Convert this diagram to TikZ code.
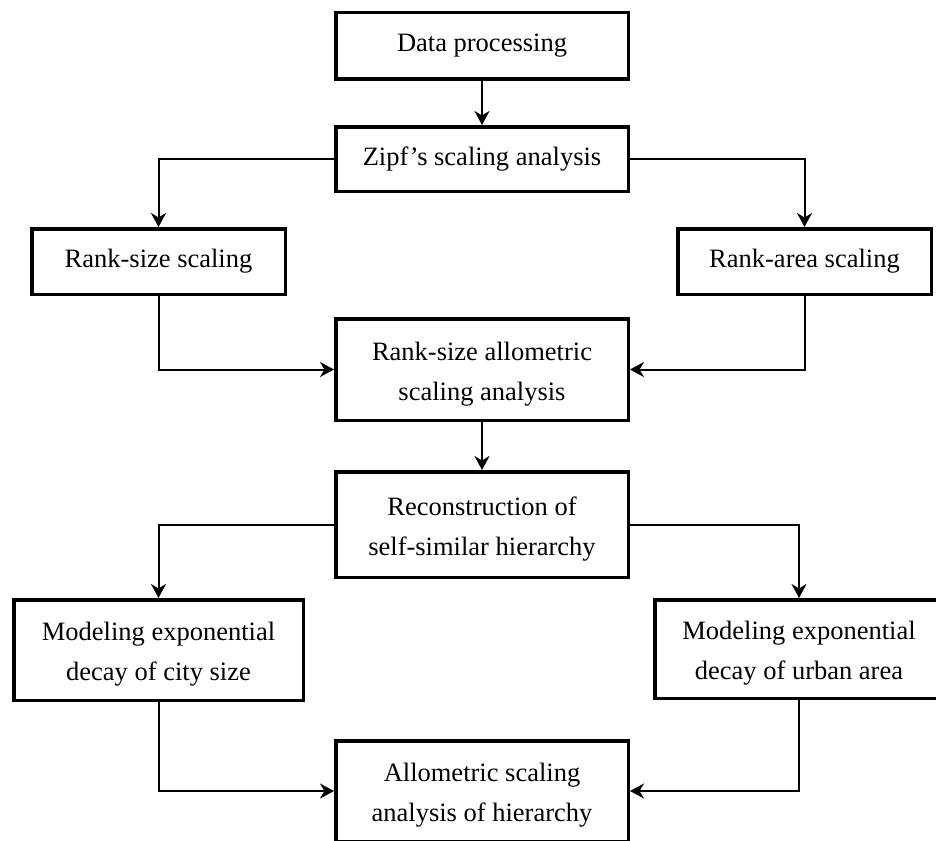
\documentclass[tikz,border=0pt]{standalone}
\usepackage{fontspec}
\setmainfont{Liberation Serif}
\usetikzlibrary{arrows.meta}
\newcommand{\tallstrut}{\rule{0pt}{27pt}}
\begin{document}
\begin{tikzpicture}[x=1pt,y=-1pt,
  box/.style={draw, line width=3.5pt, align=center, inner sep=0pt,
    font=\fontsize{26.5}{40}\selectfont},
  conn/.style={line width=2pt, -{Stealth[length=14pt,width=15pt,inset=4.5pt]}}]
\useasboundingbox (0,0) rectangle (936,840);
\clip (0,0) rectangle (936,840);
\node[box, minimum width=292.5pt, minimum height=66.5pt] (dp) at (482,46) {Data processing};
\node[box, minimum width=292.5pt, minimum height=64.5pt] (zipf) at (482,159) {Zipf’s scaling analysis};
\node[box, minimum width=253.5pt, minimum height=65.5pt] (rs) at (158.5,261.5) {Rank-size scaling};
\node[box, minimum width=253.5pt, minimum height=65.5pt] (ra) at (804.5,261.5) {Rank-area scaling};
\node[box, minimum width=292.5pt, minimum height=101.5pt] (rsa) at (482,369.5) {\tallstrut Rank-size allometric\\scaling analysis};
\node[box, minimum width=292.5pt, minimum height=105.5pt] (rec) at (482,524.5) {\tallstrut Reconstruction of\\self-similar hierarchy};
\node[box, minimum width=289.5pt, minimum height=100.5pt] (mc) at (158.5,650) {\tallstrut Modeling exponential\\decay of city size};
\node[box, minimum width=288.5pt, minimum height=98.5pt] (mu) at (799,649) {\tallstrut Modeling exponential\\decay of urban area};
\node[box, minimum width=292.5pt, minimum height=100.5pt] (al) at (482,791) {\tallstrut Allometric scaling\\analysis of hierarchy};
\draw[conn] (dp) -- (zipf);
\draw[conn] (zipf.west) -| (rs.north);
\draw[conn] (zipf.east) -| (ra.north);
\draw[conn] (rs.south) |- (rsa.west);
\draw[conn] (ra.south) |- (rsa.east);
\draw[conn] (rsa) -- (rec);
\draw[conn] (rec.west) -| (mc.north);
\draw[conn] (rec.east) -| (mu.north);
\draw[conn] (mc.south) |- (al.west);
\draw[conn] (mu.south) |- (al.east);
\end{tikzpicture}
\end{document}
